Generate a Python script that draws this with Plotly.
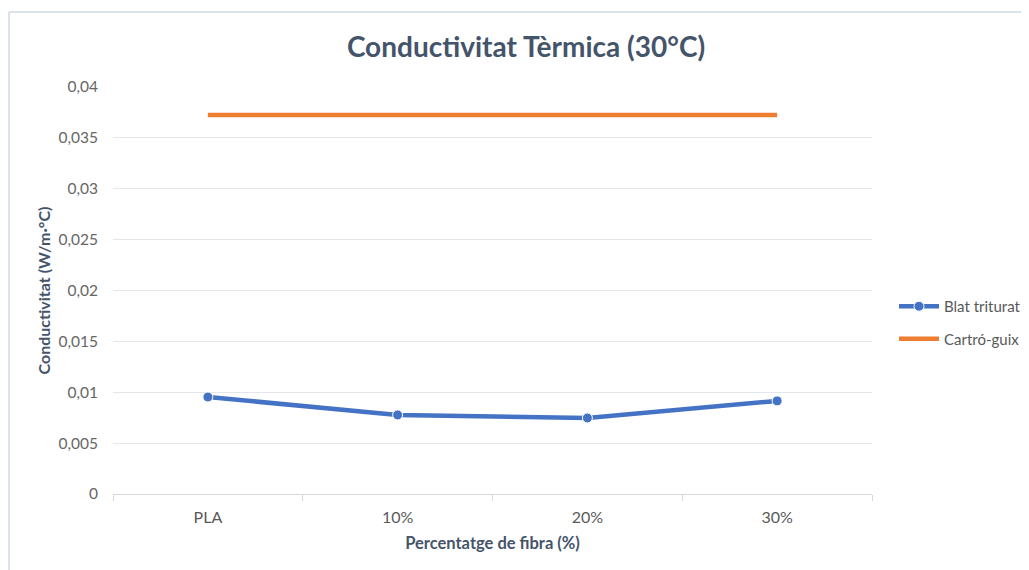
import plotly.graph_objects as go

categories = ["PLA", "10%", "20%", "30%"]
blat_triturat = [0.00953, 0.00777, 0.00747, 0.00915]
cartro_guix = [0.03725, 0.03725, 0.03725, 0.03725]
y_ticks = [0, 0.005, 0.01, 0.015, 0.02, 0.025, 0.03, 0.035, 0.04]
y_tick_labels = ["0", "0,005", "0,01", "0,015", "0,02", "0,025", "0,03", "0,035", "0,04"]

FONT = "Lato"
OFF = 8  # default page body margin
W, H = 1029 - OFF, 570 - OFF
L, T = 113 - OFF, 87 - OFF
pw, ph = 759, 407
R, B = W - L - pw, H - T - ph

fig = go.Figure()
fig.add_trace(go.Scatter(
    x=categories, y=blat_triturat, name="Blat triturat", mode="lines+markers",
    legendgroup="a",
    line=dict(color="#4472C4", width=4.5),
    marker=dict(size=10, color="#4472C4", line=dict(color="white", width=1)),
))
fig.add_trace(go.Scatter(
    x=categories, y=cartro_guix, name="Cartró-guix", mode="lines",
    legendgroup="b",
    line=dict(color="#ED7D31", width=4.5),
))

# helpers converting screen pixels to paper coordinates
def px_x(p):
    return (p - OFF - L) / pw

def px_y(p):
    return (H - B - (p - OFF)) / ph

border = "#DCE2E9"
fig.add_shape(type="line", xref="paper", yref="paper",
              x0=px_x(9), x1=px_x(1040), y0=px_y(12), y1=px_y(12),
              line=dict(color=border, width=2))
fig.add_shape(type="line", xref="paper", yref="paper",
              x0=px_x(9), x1=px_x(9), y0=px_y(12), y1=px_y(580),
              line=dict(color=border, width=2))

fig.update_layout(
    width=W, height=H,
    margin=dict(l=L, r=R, t=T, b=B, autoexpand=False),
    paper_bgcolor="white", plot_bgcolor="white",
    font=dict(family=FONT, color="#595959", size=16),
    title=dict(text="<b>Conductivitat Tèrmica (30°C)</b>",
               x=(526 - OFF) / W, xanchor="center",
               y=1 - (47 - OFF) / H, yanchor="middle",
               font=dict(family=FONT, size=28, color="#44546A")),
    xaxis=dict(
        type="category", range=[-0.5, 3.5], automargin=False,
        showgrid=False, showline=True, linecolor="#D9D9D9", linewidth=1,
        ticks="outside", ticklen=6, tickcolor="#D9D9D9", tickson="boundaries",
        ticklabelstandoff=9,
        tickfont=dict(size=16, color="#595959"),
        title=dict(text="<b>Percentatge de fibra (%)</b>", standoff=12,
                   font=dict(size=16.5, color="#44546A")),
    ),
    yaxis=dict(
        range=[0, 0.04], tickvals=y_ticks, ticktext=y_tick_labels, automargin=False,
        showgrid=True, gridcolor="#E3E6EA", gridwidth=1.3, zeroline=False,
        ticks="", ticklabelstandoff=14,
        tickfont=dict(size=15.5, color="#666666"),
        title=dict(text="<b>Conductivitat (W/m·°C)</b>", standoff=3,
                   font=dict(size=16, color="#44546A")),
    ),
    legend=dict(x=px_x(894), y=px_y(290), xanchor="left", yanchor="top",
                font=dict(size=15, color="#595959"), tracegroupgap=10,
                itemwidth=40, bgcolor="rgba(0,0,0,0)"),
    showlegend=True,
)

fig.write_html("out.html")
